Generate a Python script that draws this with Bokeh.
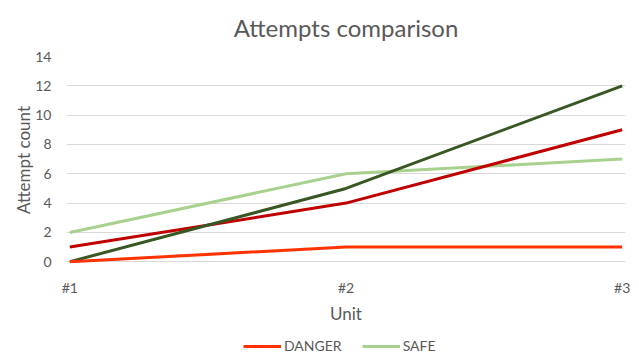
from bokeh.plotting import figure
from bokeh.models import FixedTicker, Legend, LegendItem, Range1d
from bokeh.layouts import column
from bokeh.embed import file_html
from bokeh.resources import INLINE

units = ["#1", "#2", "#3"]
x_pos = [0, 1, 2]
danger = [0, 1, 1]
safe = [2, 6, 7]
series_red = [1, 4, 9]
series_green = [0, 5, 12]
y_ticks = [0, 2, 4, 6, 8, 10, 12, 14]

FONT = "Lato"
GRAY = "#595959"
C_DANGER = "#FF3300"
C_SAFE = "#A9D18E"

p = figure(width=631, height=330, output_backend="svg", toolbar_location=None,
           x_range=Range1d(-0.012, 2.012), y_range=Range1d(-0.12, 14.0),
           min_border_left=66, min_border_right=6, min_border_top=55, min_border_bottom=67)

p.title.text = "Attempts comparison"
p.title.align = "center"
p.title.vertical_align = "top"
p.title.text_font = FONT
p.title.text_font_size = "24px"
p.title.text_font_style = "normal"
p.title.text_color = GRAY
p.title.standoff = 25
p.title.offset = -28

p.outline_line_color = None
p.background_fill_color = "white"

p.xaxis.ticker = FixedTicker(ticks=x_pos)
p.xaxis.major_label_overrides = {i: u for i, u in zip(x_pos, units)}
p.yaxis.ticker = FixedTicker(ticks=y_ticks)
for ax in (p.xaxis, p.yaxis):
    ax.axis_line_color = None
    ax.major_tick_line_color = None
    ax.minor_tick_line_color = None
    ax.major_tick_out = 0
    ax.major_tick_in = 0
    ax.minor_tick_out = 0
    ax.minor_tick_in = 0
    ax.major_label_text_font = FONT
    ax.major_label_text_font_size = "14px"
    ax.major_label_text_color = GRAY
    ax.axis_label_text_font = FONT
    ax.axis_label_text_font_size = "17px"
    ax.axis_label_text_font_style = "normal"
    ax.axis_label_text_color = GRAY
p.xaxis.axis_label = "Unit"
p.yaxis.axis_label = "Attempt count"
p.xaxis.major_label_standoff = 15
p.yaxis.major_label_standoff = 15
p.xaxis.axis_label_standoff = 4
p.yaxis.axis_label_standoff = -2

p.xgrid.grid_line_color = None
p.ygrid.grid_line_color = "#D9D9D9"
p.ygrid.grid_line_width = 1

p.line(x_pos, safe, line_color=C_SAFE, line_width=3)
p.line(x_pos, series_red, line_color="#C00000", line_width=3)
p.line(x_pos, series_green, line_color="#385723", line_width=3)
p.line(x_pos, danger, line_color=C_DANGER, line_width=3)

# legend strip: same series drawn out of view, only their legend entries show
lg = figure(width=631, height=24, output_backend="svg", toolbar_location=None,
            x_axis_type=None, y_axis_type=None,
            x_range=Range1d(0, 2), y_range=Range1d(100, 101),
            min_border_left=66, min_border_right=6, min_border_top=0, min_border_bottom=0)
lg.outline_line_color = None
lg.xgrid.grid_line_color = None
lg.ygrid.grid_line_color = None
ld = lg.line(x_pos, danger, line_color=C_DANGER, line_width=3)
ls = lg.line(x_pos, safe, line_color=C_SAFE, line_width=3)
legend = Legend(items=[LegendItem(label="DANGER", renderers=[ld]),
                       LegendItem(label="SAFE", renderers=[ls])],
                orientation="horizontal", location=(177, 0),
                label_text_font=FONT, label_text_font_size="14px", label_text_color=GRAY,
                glyph_width=38, glyph_height=10, label_standoff=3, spacing=20,
                border_line_color=None, background_fill_alpha=0, padding=0, margin=0)
lg.add_layout(legend)

layout = column(p, lg, spacing=0)
open("out.html", "w").write(file_html(layout, INLINE))
